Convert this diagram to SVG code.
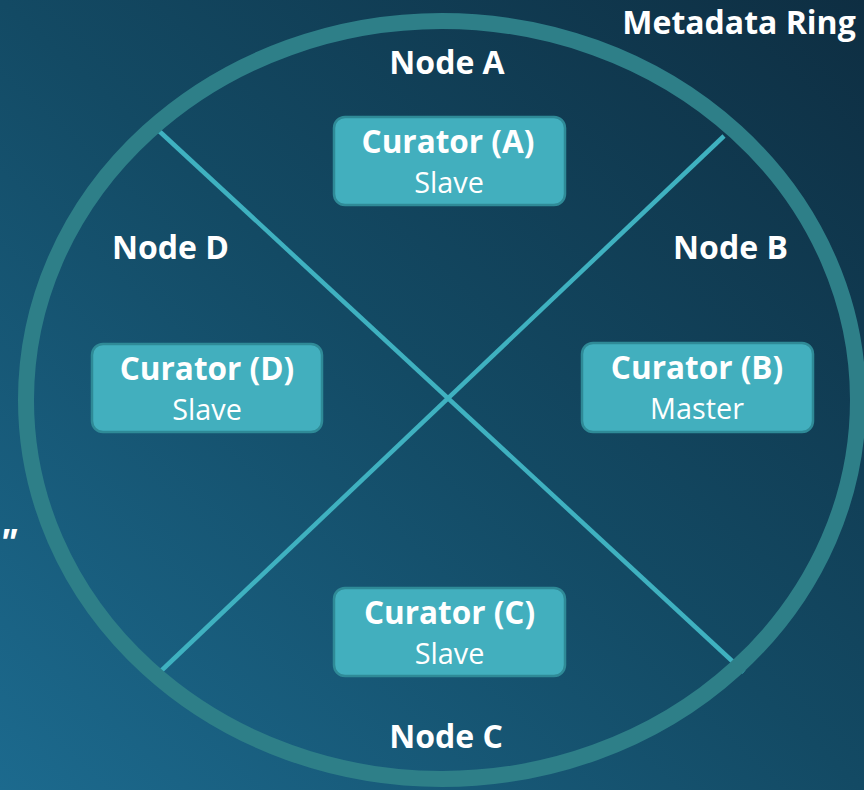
<svg xmlns="http://www.w3.org/2000/svg" width="864" height="790" viewBox="0 0 864 790">
  <defs>
    <linearGradient id="bg" x1="0" y1="1" x2="1" y2="0">
      <stop offset="0" stop-color="#1c6a8e"/>
      <stop offset="0.5" stop-color="#134a64"/>
      <stop offset="1" stop-color="#0e2e42"/>
    </linearGradient>
  </defs>
  <style>
    .lbl { font-family: "Open Sans", "Noto Sans", sans-serif; font-weight: bold; fill: #ffffff; text-anchor: middle; }
    .big { font-size: 31.5px; }
    .node { font-size: 32px; }
    .sub { font-family: "Open Sans", "Noto Sans", sans-serif; font-size: 28.8px; fill: #ffffff; text-anchor: middle; }
    .box { fill: #42afbe; stroke: #2f8a97; stroke-width: 2.5; }
    .spoke { stroke: #3fb1c0; stroke-width: 4.5; fill: none; }
    .ring { stroke: #2e7f88; stroke-width: 16; fill: none; }
  </style>
  <rect x="0" y="0" width="864" height="790" fill="url(#bg)"/>

  <g id="connectors">
    <line class="spoke" x1="158" y1="130" x2="744" y2="672"/>
    <line class="spoke" x1="724" y1="136" x2="161" y2="671"/>
  </g>

  <g id="ring">
    <ellipse class="ring" cx="442" cy="400" rx="416" ry="379"/>
    <text class="lbl" x="739" y="34" font-size="32px">Metadata Ring</text>
  </g>

  <text class="lbl" x="8" y="556" font-size="38px" font-style="italic">"</text>

  <g id="nodeA">
    <text class="lbl node" x="447" y="74">Node A</text>
    <rect class="box" x="334" y="117" width="231" height="88" rx="11"/>
    <text class="lbl big" x="448" y="153">Curator (A)</text>
    <text class="sub" x="449" y="193">Slave</text>
  </g>

  <g id="nodeB">
    <text class="lbl node" x="730.5" y="259">Node B</text>
    <rect class="box" x="582" y="343" width="231" height="89" rx="11"/>
    <text class="lbl big" x="697" y="379">Curator (B)</text>
    <text class="sub" x="697" y="419">Master</text>
  </g>

  <g id="nodeC">
    <rect class="box" x="334" y="588" width="231" height="88" rx="11"/>
    <text class="lbl big" x="449.5" y="624">Curator (C)</text>
    <text class="sub" x="449.5" y="664">Slave</text>
    <text class="lbl node" x="446" y="748">Node C</text>
  </g>

  <g id="nodeD">
    <text class="lbl node" x="170.5" y="259">Node D</text>
    <rect class="box" x="92" y="344" width="230" height="88" rx="11"/>
    <text class="lbl big" x="207" y="380">Curator (D)</text>
    <text class="sub" x="207" y="420">Slave</text>
  </g>
</svg>
